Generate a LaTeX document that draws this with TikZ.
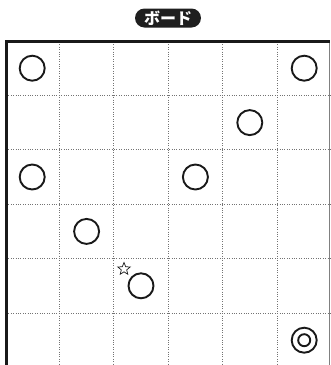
\documentclass[tikz,border=0pt]{standalone}
\usepackage{fontspec}
\newfontfamily\jpfont{Noto Sans CJK JP}
\usetikzlibrary{
    positioning,
    shapes.geometric
}

\begin{document}
\begin{tikzpicture}[
    x=1pt, y=-1pt,
    stone/.style={
        circle,
        draw=black!90,
        line width=1.9pt,
        minimum size=25pt,
        inner sep=0pt
    },
    hint/.style={
        star,
        star points=5,
        star point ratio=2.3,
        draw=black!90,
        line width=0.7pt,
        minimum size=13pt,
        inner sep=0pt
    },
    gridline/.style={
        black!55,
        line width=0.9pt,
        dash pattern=on 1pt off 1.4pt
    },
    badge/.style={
        fill=black!88,
        text=white,
        rounded corners=9.5pt,
        font=\jpfont\bfseries\fontsize{16}{16}\selectfont,
        minimum width=66pt,
        minimum height=19pt,
        inner sep=0pt
    }
]

% Set bounding box to the size of the picture
\useasboundingbox (0,0) rectangle (331,365);

% ================= TITLE =================
\node[badge] (title) at (168,18) {ボード};

% ================= GRID =================
\foreach \i in {1,...,5}
    \draw[gridline] (5+\i*54.4,42) -- (5+\i*54.4,365);
\foreach \j in {1,...,5}
    \draw[gridline] (6,41+\j*54.4) -- (331,41+\j*54.4);

% ---- board frame
\draw[black!50, line width=0.8pt] (329.5,42) -- (329.5,365);
\draw[black!90, line width=3pt] (6.5,365) -- (6.5,41.2) -- (330,41.2);

% ================= STONES =================
\node[stone] (s1) at (32.2,68.2) {};
\node[stone] (s2) at (304.2,68.2) {};
\node[stone] (s3) at (249.8,122.6) {};
\node[stone] (s4) at (32.2,177) {};
\node[stone] (s5) at (195.4,177) {};
\node[stone] (s6) at (86.6,231.4) {};
\node[stone] (s7) at (141,285.8) {};

% ---- star mark
\node[hint] (mark) at (124,269) {};

% ---- goal
\node[stone] (goal) at (304.2,340.2) {};
\node[stone, minimum size=12pt] (goalin) at (goal) {};

\end{tikzpicture}
\end{document}
